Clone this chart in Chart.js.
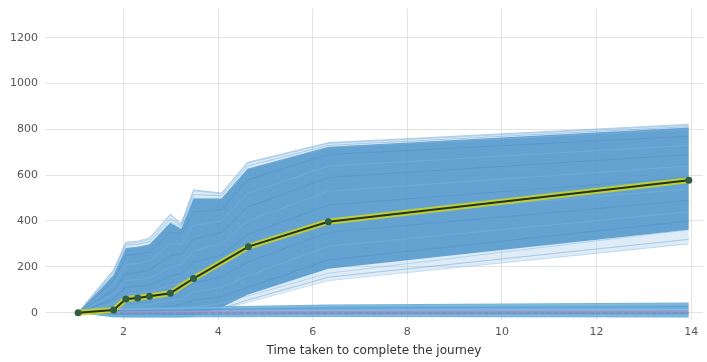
<!DOCTYPE html>
<html>
<head>
<meta charset="utf-8">
<script src="https://cdn.jsdelivr.net/npm/chart.js@4.4.1/dist/chart.umd.min.js"></script>
<style>
  html, body { margin: 0; padding: 0; background: #fff; overflow: hidden; }
  canvas { display: block; }
</style>
</head>
<body>
<canvas id="journeyChart" width="707" height="362"></canvas>
<script>
// ---------- Data ----------

// mean trajectory (yellow / dark line with markers)
const meanX = [1.04, 1.79, 2.05, 2.30, 2.55, 2.99, 3.48, 4.64, 6.33, 13.95];
const meanY = [0, 12, 60, 64, 72, 85, 149, 288, 397, 578];

// the rising fan of simulated journeys
const fanX = [1.04, 1.79, 2.05, 2.30, 2.55, 2.99, 3.22, 3.48, 4.07, 4.62, 6.33, 13.95];
const fanOuterTop = [0, 188, 308, 312, 326, 430, 388, 536, 522, 656, 742, 822];
const fanOuterBottom = [0, -22, -23, -23, -23, -23, -23, -22, 12, 48, 142, 300];
const fanInnerTop = [0, 165, 282, 288, 298, 392, 366, 498, 498, 628, 724, 808];
const fanInnerBottom = [0, -18, -20, -20, -20, -20, -20, -16, 22, 78, 192, 362];

const trajectories = [
    [0, 182, 302, 306, 320, 426, 386, 532, 518, 652, 738, 818],
    [0, 175, 295, 298, 310, 410, 380, 515, 510, 640, 730, 812],
    [0, 160, 280, 285, 295, 395, 375, 500, 495, 625, 720, 800],
    [0, 140, 250, 255, 265, 350, 345, 440, 450, 580, 690, 770],
    [0, 120, 210, 215, 225, 300, 300, 380, 400, 520, 640, 730],
    [0, 100, 170, 175, 185, 250, 255, 320, 350, 460, 590, 690],
    [0, 80, 140, 145, 150, 200, 210, 270, 300, 400, 530, 640],
    [0, 60, 110, 115, 120, 160, 170, 220, 250, 340, 470, 590],
    [0, 40, 80, 85, 90, 120, 130, 170, 200, 280, 410, 540],
    [0, 25, 50, 55, 60, 85, 95, 130, 155, 220, 350, 490],
    [0, 10, 25, 30, 35, 55, 60, 90, 110, 160, 290, 440],
    [0, 0, 10, 12, 15, 30, 35, 55, 70, 110, 230, 400],
    [0, -10, 0, 0, 5, 10, 15, 25, 40, 72, 172, 362],
    [0, -15, -10, -10, -5, 0, 0, 5, 18, 55, 155, 320],
    [0, -15, -10, -10, -5, 0, 0, 5, 15, 45, 140, 300]
];

// the flat group of journeys hugging zero
const flatX = [1.04, 1.79, 4.07, 6.33, 13.95];
const flatTop = [0, 20, 28, 36, 44];
const flatBottom = [0, -20, -20, -19, -21];
const flatLines = [
    [0, 14, 22, 30, 38],
    [0, 8, 14, 20, 26],
    [0, 2, 6, 10, 14],
    [0, -6, -6, -4, -4],
    [0, -14, -14, -12, -14]
];

// reference lines at zero
const baseX = [1.04, 13.95];
const magentaY = [3, 3];
const dashedY = [-1, -1];

const xTicks = [2, 4, 6, 8, 10, 12, 14];
const yTicks = [0, 200, 400, 600, 800, 1000, 1200];

// ---------- Build datasets ----------

function pts(xs, ys) {
    return xs.map((x, i) => ({x: x, y: ys[i]}));
}

const ds = [];

function add(d) {
    ds.push(Object.assign({pointRadius: 0, borderWidth: 0, fill: false, tension: 0}, d));
    return ds.length - 1;
}

// fan: outer (sparse) band, then dense band
let b = add({data: pts(fanX, fanOuterBottom)});
add({data: pts(fanX, fanOuterTop), fill: {target: b}, backgroundColor: "rgba(150,195,230,0.32)",
     borderColor: "rgba(120,172,214,0.5)", borderWidth: 1});
b = add({data: pts(fanX, fanInnerBottom)});
add({data: pts(fanX, fanInnerTop), fill: {target: b}, backgroundColor: "rgba(90,155,206,0.92)"});

trajectories.forEach((t, i) => {
    add({data: pts(fanX, t), borderColor: i % 2 ? "rgba(70,132,190,0.35)" : "rgba(130,182,224,0.45)", borderWidth: 1});
});

// flat group
b = add({data: pts(flatX, flatBottom)});
add({data: pts(flatX, flatTop), fill: {target: b}, backgroundColor: "rgba(100,168,214,0.9)"});
flatLines.forEach((t, i) => {
    add({data: pts(flatX, t), borderColor: i % 2 ? "rgba(70,135,192,0.4)" : "rgba(150,200,232,0.5)", borderWidth: 1});
});

add({data: pts(baseX, dashedY), borderColor: "rgba(130,130,130,0.9)", borderWidth: 1, borderDash: [4, 3]});
add({data: pts(baseX, magentaY), borderColor: "rgba(205,110,205,0.9)", borderWidth: 1.2});

// mean line: yellow halo, dark core, green markers
add({data: pts(meanX, meanY), borderColor: "rgba(200,212,40,0.9)", borderWidth: 6});
add({data: pts(meanX, meanY), borderColor: "#26331c", borderWidth: 2,
     pointRadius: 3.5, pointBackgroundColor: "#2f5e42", pointBorderColor: "#2f5e42", pointBorderWidth: 0});

// paint in push order
ds.forEach((d, i) => { d.order = ds.length - i; });

// ---------- Chart ----------

const ctx = document.getElementById("journeyChart");

new Chart(ctx, {
    type: "line",
    data: {datasets: ds},
    options: {
        responsive: false,
        animation: false,
        layout: {padding: {top: 9, right: 0, left: 0, bottom: 0}},
        plugins: {
            legend: {display: false},
            tooltip: {enabled: false},
            filler: {drawTime: "beforeDatasetDraw"}
        },
        scales: {
            x: {
                type: "linear",
                min: 0.34,
                max: 14.25,
                afterFit: s => { s.height = 42; s.paddingLeft = 0; s.paddingRight = 0; },
                afterBuildTicks: s => { s.ticks = xTicks.map(v => ({value: v})); },
                ticks: {
                    color: "#555",
                    font: {family: "DejaVu Sans", size: 11},
                    padding: 6,
                    maxRotation: 0,
                    callback: v => String(v)
                },
                grid: {color: "#e3e3e3", lineWidth: 1, drawTicks: false},
                border: {display: false},
                title: {
                    display: true,
                    text: "Time taken to complete the journey",
                    color: "#333",
                    font: {family: "DejaVu Sans", size: 12},
                    padding: {top: 0, bottom: 4}
                }
            },
            y: {
                type: "linear",
                min: -32,
                max: 1325,
                afterFit: s => { s.width = 45; s.paddingTop = 0; s.paddingBottom = 0; },
                afterBuildTicks: s => { s.ticks = yTicks.map(v => ({value: v})); },
                ticks: {
                    color: "#555",
                    font: {family: "DejaVu Sans", size: 11},
                    padding: 7,
                    callback: v => String(v)
                },
                grid: {color: "#e3e3e3", lineWidth: 1, drawTicks: false},
                border: {display: false}
            }
        }
    }
});
</script>
</body>
</html>
